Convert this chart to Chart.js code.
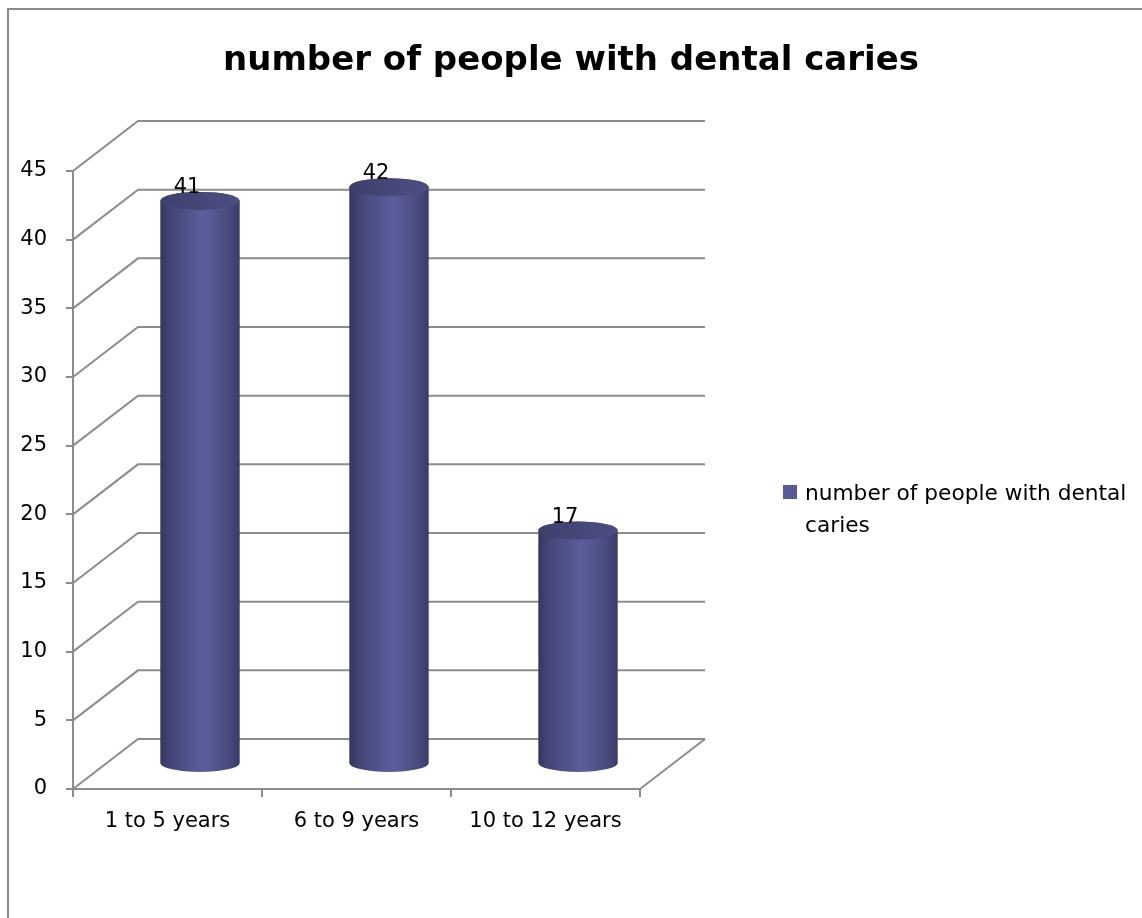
<!DOCTYPE html>
<html>
<head>
<meta charset="utf-8">
<title>number of people with dental caries</title>
<script src="https://cdn.jsdelivr.net/npm/chart.js@4.4.1/dist/chart.umd.min.js"></script>
<style>
  body { margin: 0; background: #fff; }
  canvas { display: block; }
</style>
</head>
<body>
<canvas id="cariesChart" width="1142" height="918"></canvas>
<script>
const chartTitle = 'number of people with dental caries';
const ageGroups = ['1 to 5 years', '6 to 9 years', '10 to 12 years'];
const cariesCounts = [41, 42, 17];
const seriesName = 'number of people with dental caries';
const legendLines = ['number of people with dental', 'caries'];
const yTickValues = [0, 5, 10, 15, 20, 25, 30, 35, 40, 45];

const fontFamily = "'DejaVu Sans', sans-serif";
const gridColor = '#8c8c8c';
const seriesColor = '#575a94';

// offset of the back wall from the front plane
const depth = { x: 65, y: -50 };

Chart.defaults.font.family = fontFamily;
Chart.defaults.color = '#000';

function drawCylinder(ctx, cx, topY, baseY, rx, ry) {
  const body = ctx.createLinearGradient(cx - rx, 0, cx + rx, 0);
  body.addColorStop(0, '#35375f');
  body.addColorStop(0.15, '#45477a');
  body.addColorStop(0.55, '#5b5e9b');
  body.addColorStop(0.85, '#4a4c80');
  body.addColorStop(1, '#393b66');

  ctx.beginPath();
  ctx.moveTo(cx - rx, topY);
  ctx.lineTo(cx - rx, baseY);
  ctx.ellipse(cx, baseY, rx, ry, 0, Math.PI, 0, true);
  ctx.lineTo(cx + rx, topY);
  ctx.ellipse(cx, topY, rx, ry, 0, 0, Math.PI, true);
  ctx.closePath();
  ctx.fillStyle = body;
  ctx.fill();

  // lid
  const top = ctx.createLinearGradient(cx - rx, 0, cx + rx, 0);
  top.addColorStop(0, '#3d3f6c');
  top.addColorStop(1, '#4d4f84');
  ctx.beginPath();
  ctx.ellipse(cx, topY, rx, ry, 0, 0, Math.PI * 2);
  ctx.fillStyle = top;
  ctx.fill();
}

const walls3d = {
  id: 'walls3d',
  beforeDatasetsDraw(chart) {
    const { ctx, chartArea: area, scales: { y } } = chart;
    ctx.save();
    ctx.strokeStyle = gridColor;
    ctx.lineWidth = 2;

    // side wall diagonals and back wall lines
    y.ticks.forEach(t => {
      const py = y.getPixelForValue(t.value);
      ctx.beginPath();
      ctx.moveTo(area.left, py);
      ctx.lineTo(area.left + depth.x, py + depth.y);
      ctx.lineTo(area.right + depth.x, py + depth.y);
      ctx.stroke();
    });

    // right edge of the floor
    ctx.beginPath();
    ctx.moveTo(area.right, area.bottom);
    ctx.lineTo(area.right + depth.x, area.bottom + depth.y);
    ctx.stroke();

    // cylinders sit halfway into the depth
    const meta = chart.getDatasetMeta(0);
    const ry = 9;
    ctx.font = "21px " + fontFamily;
    meta.data.forEach((bar, i) => {
      const cx = bar.x + depth.x / 2;
      const topY = bar.y + depth.y / 2;
      const baseY = bar.base + depth.y / 2;
      drawCylinder(ctx, cx, topY, baseY, bar.width / 2, ry);

      ctx.fillStyle = '#000';
      ctx.textAlign = 'center';
      ctx.textBaseline = 'alphabetic';
      ctx.fillText(String(cariesCounts[i]), cx - 13, topY - ry + 1);
    });

    ctx.restore();
    return false;
  },
  afterDraw(chart) {
    const { ctx, width } = chart;
    ctx.save();

    // title
    ctx.font = "bold 34px " + fontFamily;
    ctx.fillStyle = '#000';
    ctx.textAlign = 'center';
    ctx.textBaseline = 'alphabetic';
    ctx.fillText(chartTitle, width / 2, 70);

    // legend
    ctx.fillStyle = seriesColor;
    ctx.fillRect(783, 485, 14, 14);
    ctx.fillStyle = '#000';
    ctx.font = "21.7px " + fontFamily;
    ctx.textAlign = 'left';
    legendLines.forEach((line, i) => {
      ctx.fillText(line, 805, 500 + i * 32);
    });

    // chart frame
    ctx.strokeStyle = '#8a8a8a';
    ctx.lineWidth = 2;
    ctx.strokeRect(8, 9, 1200, 1000);
    ctx.restore();
  }
};

new Chart(document.getElementById('cariesChart'), {
  type: 'bar',
  data: {
    labels: ageGroups,
    datasets: [{
      label: seriesName,
      data: cariesCounts,
      backgroundColor: seriesColor,
      categoryPercentage: 1,
      barPercentage: 0.42
    }]
  },
  options: {
    responsive: false,
    animation: false,
    devicePixelRatio: 1,
    layout: { padding: { left: 8, right: 502, top: 171, bottom: 0 } },
    plugins: {
      legend: { display: false },
      title: { display: false },
      tooltip: { enabled: false }
    },
    scales: {
      x: {
        grid: { display: true, drawOnChartArea: false, drawTicks: true, tickLength: 8, color: gridColor, lineWidth: 2 },
        border: { display: true, color: gridColor, width: 2 },
        ticks: { font: { size: 21 }, color: '#000', padding: 12, maxRotation: 0 },
        afterFit: s => { s.height = 129; }
      },
      y: {
        min: 0,
        max: 45,
        afterBuildTicks: s => { s.ticks = yTickValues.map(v => ({ value: v })); },
        grid: { display: true, drawOnChartArea: false, drawTicks: true, tickLength: 7, color: gridColor, lineWidth: 2 },
        border: { display: true, color: gridColor, width: 2 },
        ticks: { font: { size: 21 }, color: '#000', padding: 19 },
        afterFit: s => { s.width = 65; }
      }
    }
  },
  plugins: [walls3d]
});
</script>
</body>
</html>
